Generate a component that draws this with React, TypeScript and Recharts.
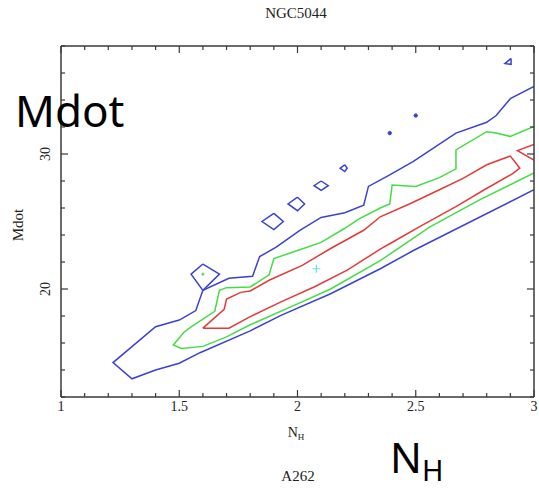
import { LineChart, Line, XAxis, YAxis } from 'recharts';

type Pt = [number, number];

// axis ticks
const xTicks = [1, 1.1, 1.2, 1.3, 1.4, 1.5, 1.6, 1.7, 1.8, 1.9, 2, 2.1, 2.2, 2.3, 2.4, 2.5, 2.6, 2.7, 2.8, 2.9, 3];
const xLabelTicks = [1, 1.5, 2, 2.5, 3];
const yTicks = [12, 14, 16, 18, 20, 22, 24, 26, 28, 30, 32, 34, 36, 38];
const yLabelTicks = [20, 30];

// contours, as [N_H, Mdot]
const blueOuter: Pt[] = [
  [3.0, 35.0], [2.9, 34.1], [2.84, 32.85], [2.8, 32.35], [2.67, 31.55], [2.49, 29.45],
  [2.39, 28.45], [2.3, 27.6], [2.28, 26.2], [2.2, 25.65], [2.1, 25.3], [2.01, 24.35],
  [1.91, 23.1], [1.84, 22.4], [1.81, 20.95], [1.71, 20.8], [1.6, 19.9], [1.57, 18.4],
  [1.5, 17.7], [1.4, 17.2], [1.22, 14.55], [1.3, 13.35], [1.4, 14.0], [1.5, 14.5],
  [1.59, 15.3], [1.8, 16.9], [1.93, 18.05], [2.14, 19.65], [2.35, 21.5], [2.49, 22.85],
  [3.0, 27.35],
];
const blueIsland1: Pt[] = [[1.6, 21.85], [1.67, 21.1], [1.6, 19.9], [1.55, 21.1], [1.6, 21.85]];
const blueIsland2: Pt[] = [[1.9, 25.6], [1.94, 25.0], [1.9, 24.4], [1.85, 25.0], [1.9, 25.6]];
const blueIsland3: Pt[] = [[2.0, 26.8], [2.03, 26.3], [2.0, 25.8], [1.96, 26.3], [2.0, 26.8]];
const blueIsland4: Pt[] = [[2.1, 28.0], [2.13, 27.65], [2.1, 27.3], [2.07, 27.65], [2.1, 28.0]];
const blueIsland5: Pt[] = [[2.2, 29.2], [2.21, 28.95], [2.2, 28.7], [2.18, 28.95], [2.2, 29.2]];
const blueTriangle: Pt[] = [[2.903, 37.08], [2.903, 36.64], [2.877, 36.7], [2.903, 37.08]];
const blueDots: Pt[] = [[2.39, 31.55], [2.5, 32.85]];

const greenOuter: Pt[] = [
  [3.0, 32.05], [2.9, 31.3], [2.84, 31.55], [2.8, 31.65], [2.67, 30.3], [2.67, 28.9],
  [2.6, 28.25], [2.5, 27.6], [2.4, 27.7], [2.39, 26.3], [2.35, 26.0], [2.26, 25.2],
  [2.2, 24.5], [2.1, 23.45], [2.0, 22.85], [1.9, 22.25], [1.88, 21.05], [1.8, 20.15],
  [1.7, 20.1], [1.67, 19.9], [1.65, 18.35], [1.55, 17.2], [1.52, 16.8], [1.475, 15.85],
  [1.51, 15.6], [1.6, 15.75], [1.7, 16.45], [1.8, 17.35], [2.0, 18.9], [2.14, 20.0],
  [2.35, 22.1], [2.56, 24.6], [2.77, 26.6], [3.0, 28.6],
];
const greenDot: Pt[] = [[1.6, 21.1]];

const redLoop: Pt[] = [
  [1.6, 17.1], [1.69, 18.5], [1.7, 19.25], [1.76, 19.75], [1.8, 19.85], [1.88, 20.65],
  [2.02, 21.75], [2.14, 23.0], [2.28, 24.35], [2.35, 25.35], [2.48, 26.35], [2.6, 27.35],
  [2.7, 28.2], [2.8, 29.2], [2.9, 29.85], [2.94, 28.95], [2.91, 28.55], [2.79, 27.35],
  [2.67, 26.1], [2.53, 24.75], [2.39, 23.35], [2.35, 22.95], [2.21, 21.4], [2.07, 20.15],
  [1.93, 19.05], [1.8, 17.95], [1.71, 17.1], [1.6, 17.1],
];
const redEdge: Pt[] = [[3.0, 30.7], [2.93, 30.25], [3.0, 29.55]];

const bestFit: Pt[] = [[2.08, 21.5]];

const BLUE = '#3b42d2';
const GREEN = '#44dd44';
const RED = '#e23b3b';
const CYAN = '#5fe3ee';
const AXIS = '#3a3a3a';
const SERIF = '"Liberation Serif", "DejaVu Serif", serif';
const SANS = '"Noto Sans", "Open Sans", sans-serif';

const rows = (pts: Pt[]) => pts.map(([x, y]) => ({ x, y }));

const contours = [
  { id: 'blueOuter', pts: blueOuter, color: BLUE },
  { id: 'blueIsland1', pts: blueIsland1, color: BLUE },
  { id: 'blueIsland2', pts: blueIsland2, color: BLUE },
  { id: 'blueIsland3', pts: blueIsland3, color: BLUE },
  { id: 'blueIsland4', pts: blueIsland4, color: BLUE },
  { id: 'blueIsland5', pts: blueIsland5, color: BLUE },
  { id: 'blueTriangle', pts: blueTriangle, color: BLUE },
  { id: 'greenOuter', pts: greenOuter, color: GREEN },
  { id: 'redLoop', pts: redLoop, color: RED },
  { id: 'redEdge', pts: redEdge, color: RED },
];

const BottomTick = (props: any) => {
  const { x, y, payload } = props;
  const major = xLabelTicks.includes(payload.value);
  return (
    <g>
      <line x1={x} y1={y} x2={x} y2={y - (major ? 7 : 4)} stroke={AXIS} strokeWidth={1.2} />
      {major && (
        <text x={x} y={y + 14} textAnchor="middle" fontSize={14} fontFamily={SERIF} fill="#222">
          {payload.value}
        </text>
      )}
    </g>
  );
};

const TopTick = (props: any) => {
  const { x, y, payload } = props;
  const major = xLabelTicks.includes(payload.value);
  return <line x1={x} y1={y} x2={x} y2={y + (major ? 7 : 4)} stroke={AXIS} strokeWidth={1.2} />;
};

const LeftTick = (props: any) => {
  const { x, y, payload } = props;
  const major = yLabelTicks.includes(payload.value);
  const tx = x - 11;
  return (
    <g>
      <line x1={x} y1={y} x2={x + (major ? 7 : 4)} y2={y} stroke={AXIS} strokeWidth={1.2} />
      {major && (
        <text
          x={tx}
          y={y}
          textAnchor="middle"
          fontSize={14}
          fontFamily={SERIF}
          fill="#222"
          transform={`rotate(-90 ${tx} ${y})`}
        >
          {payload.value}
        </text>
      )}
    </g>
  );
};

const RightTick = (props: any) => {
  const { x, y, payload } = props;
  const major = yLabelTicks.includes(payload.value);
  return <line x1={x} y1={y} x2={x - (major ? 7 : 4)} y2={y} stroke={AXIS} strokeWidth={1.2} />;
};

const PlusDot = (p: any) => (
  <path
    key={`plus-${p.index}`}
    d={`M${p.cx - 4},${p.cy}h8M${p.cx},${p.cy - 4}v8`}
    stroke={CYAN}
    strokeWidth={1.2}
    fill="none"
  />
);

export default function App() {
  return (
    <div style={{ position: 'absolute', left: 0, top: 0, width: 539, height: 491, background: '#fff' }}>
      <LineChart width={539} height={491} margin={{ top: 26, right: 0, bottom: 0, left: 0 }}>
        <XAxis
          dataKey="x"
          type="number"
          domain={[1, 3]}
          ticks={xTicks}
          interval={0}
          height={94}
          tickSize={0}
          tickMargin={0}
          tickLine={false}
          tick={<BottomTick />}
          axisLine={{ stroke: AXIS, strokeWidth: 1.5 }}
          allowDataOverflow
        />
        <XAxis
          xAxisId="t"
          orientation="top"
          dataKey="x"
          type="number"
          domain={[1, 3]}
          ticks={xTicks}
          interval={0}
          height={20}
          tickSize={0}
          tickMargin={0}
          tickLine={false}
          tick={<TopTick />}
          axisLine={{ stroke: AXIS, strokeWidth: 1.5 }}
          allowDataOverflow
        />
        <YAxis
          dataKey="y"
          type="number"
          domain={[12, 38]}
          ticks={yTicks}
          interval={0}
          width={61}
          tickSize={0}
          tickMargin={0}
          tickLine={false}
          tick={<LeftTick />}
          axisLine={{ stroke: AXIS, strokeWidth: 1.5 }}
          allowDataOverflow
        />
        <YAxis
          yAxisId="r"
          orientation="right"
          dataKey="y"
          type="number"
          domain={[12, 38]}
          ticks={yTicks}
          interval={0}
          width={5}
          tickSize={0}
          tickMargin={0}
          tickLine={false}
          tick={<RightTick />}
          axisLine={{ stroke: AXIS, strokeWidth: 1.5 }}
          allowDataOverflow
        />
        {contours.map((c) => (
          <Line
            key={c.id}
            data={rows(c.pts)}
            dataKey="y"
            type="linear"
            stroke={c.color}
            strokeWidth={1.5}
            dot={false}
            isAnimationActive={false}
          />
        ))}
        <Line
          data={rows(blueDots)}
          dataKey="y"
          stroke="none"
          dot={{ r: 1.7, fill: BLUE, stroke: BLUE }}
          isAnimationActive={false}
        />
        <Line
          data={rows(greenDot)}
          dataKey="y"
          stroke="none"
          dot={{ r: 1, fill: GREEN, stroke: GREEN }}
          isAnimationActive={false}
        />
        <Line data={rows(bestFit)} dataKey="y" stroke="none" dot={PlusDot} isAnimationActive={false} />
      </LineChart>
      <svg
        width={539}
        height={491}
        style={{ position: 'absolute', left: 0, top: 0, pointerEvents: 'none' }}
      >
        <text x={296} y={18} textAnchor="middle" fontSize={15} fontFamily={SERIF} fill="#222">
          NGC5044
        </text>
        <text
          x={23}
          y={225}
          textAnchor="middle"
          fontSize={15}
          fontFamily={SERIF}
          fill="#222"
          transform="rotate(-90 23 225)"
        >
          Mdot
        </text>
        <text x={296} y={437} textAnchor="middle" fontSize={14} fontFamily={SERIF} fill="#222">
          N<tspan fontSize={9} dy={3}>H</tspan>
        </text>
        <text x={298} y={481} textAnchor="middle" fontSize={15} fontFamily={SERIF} fill="#222">
          A262
        </text>
        <text x={15} y={127} fontSize={44} fontFamily={SANS} fill="#000">
          Mdot
        </text>
        <text x={390} y={473} fontSize={42} fontFamily={SANS} fill="#000">
          N<tspan fontSize={29} dy={8}>H</tspan>
        </text>
      </svg>
    </div>
  );
}
